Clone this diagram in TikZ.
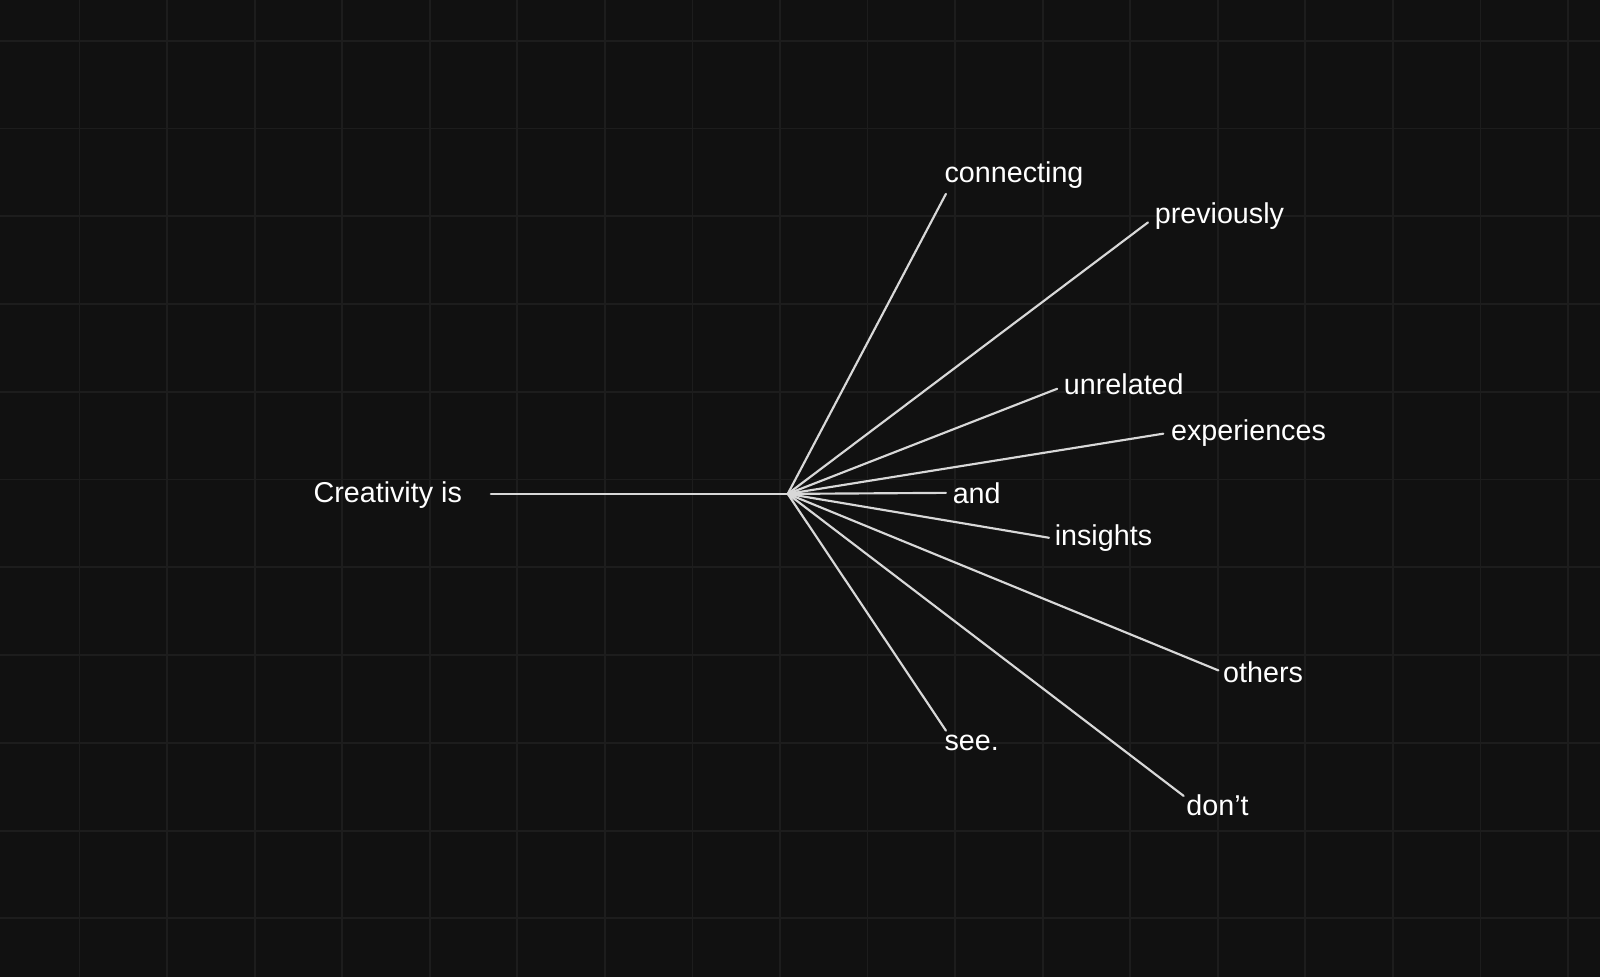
\documentclass[tikz,border=0pt]{standalone}
\usepackage{fontspec}
\setmainfont{Liberation Sans}
\definecolor{bg}{HTML}{111111}
\definecolor{gridcol}{HTML}{1D1D1D}
\definecolor{spoke}{HTML}{D8D8D8}
\tikzset{
  word/.style={text=white, inner sep=0pt, font=\fontsize{8}{9}\selectfont},
  branch/.style={spoke, line width=0.6pt, line cap=round}
}
\begin{document}
\begin{tikzpicture}[x=0.01cm, y=-0.01cm]
\fill[bg] (0,0) rectangle (1568,957);
\useasboundingbox (0,0) rectangle (1568,957);
% faint grid
\foreach \i in {0,...,17} \draw[gridcol, line width=0.5pt] (78+85.8*\i,0) -- (78+85.8*\i,957);
\foreach \j in {0,...,10} \draw[gridcol, line width=0.5pt] (0,40+86*\j) -- (1568,40+86*\j);
% hub
\coordinate (hub) at (772,484);
\node[word] (creativity) at (380,485) {Creativity is};
\coordinate (start) at (481,484);
\draw[branch] (start) -- (hub);
% words
\node[word, anchor=west] (connecting) at (925,172) {connecting};
\node[word, anchor=west] (previously) at (1131,212) {previously};
\node[word, anchor=west] (unrelated) at (1042,377) {unrelated};
\node[word, anchor=west] (experiences) at (1147,424) {experiences};
\node[word, anchor=west] (and) at (933,483) {and};
\node[word, anchor=west] (insights) at (1033,527) {insights};
\node[word, anchor=west] (others) at (1198,659) {others};
\node[word, anchor=west] (see) at (925,728) {see.};
\node[word, anchor=west] (dont) at (1162,789) {don’t};
% spokes
\coordinate (e1) at (927,190);
\coordinate (e2) at (1125,218);
\coordinate (e3) at (1036,381);
\coordinate (e4) at (1140,425);
\coordinate (e5) at (927,483);
\coordinate (e6) at (1028,527);
\coordinate (e7) at (1194,657);
\coordinate (e8) at (927,716);
\coordinate (e9) at (1160,780);
\foreach \e in {e1,e2,e3,e4,e5,e6,e7,e8,e9}
  \draw[branch] (hub) -- (\e);
\end{tikzpicture}
\end{document}
